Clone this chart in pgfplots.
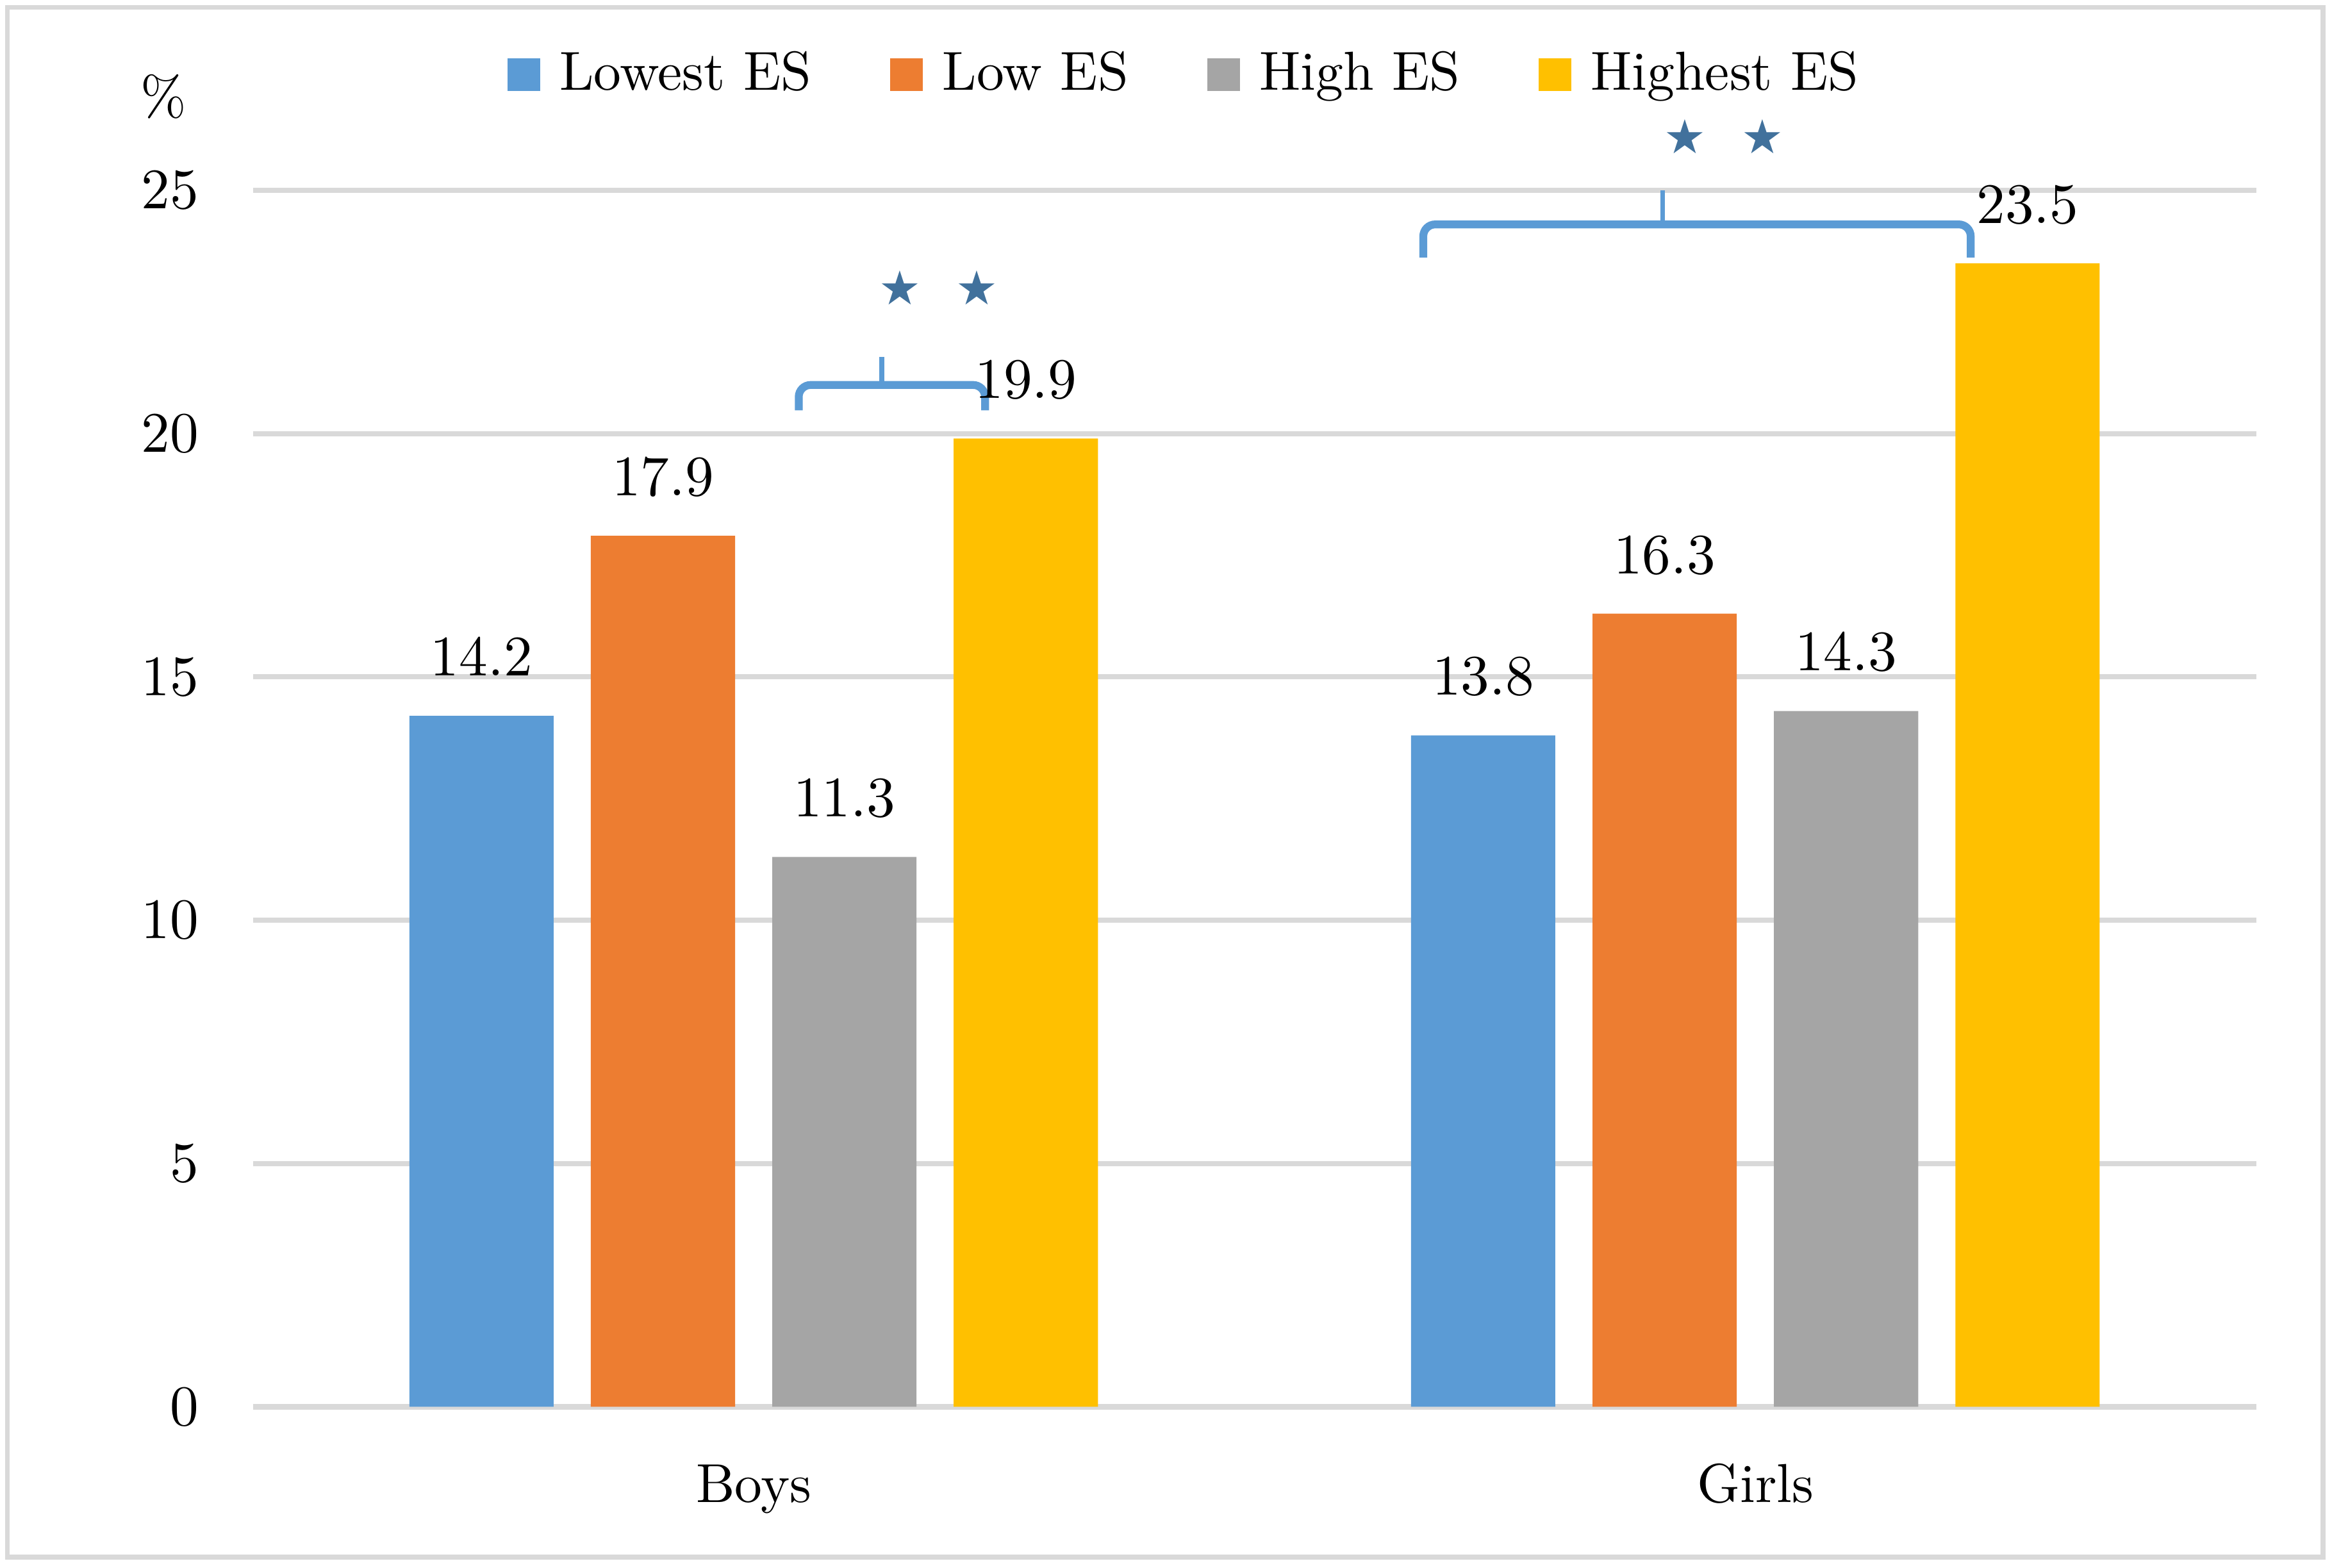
\documentclass[border=0pt]{standalone}
\usepackage{fontspec}
\usepackage{pgfplots}
\pgfplotsset{compat=1.18}
\usetikzlibrary{calc}
\newfontfamily\symfont{DejaVu Sans}

\definecolor{cblue}{HTML}{5B9BD5}
\definecolor{corange}{HTML}{ED7D31}
\definecolor{cgray}{HTML}{A5A5A5}
\definecolor{cyellow}{HTML}{FFC000}
\definecolor{cgrid}{HTML}{D9D9D9}
\definecolor{cstar}{HTML}{41719C}

\begin{document}
\begin{tikzpicture}[font=\fontsize{10.5}{12.6}\selectfont]
\begin{axis}[
    name=ax,
    scale only axis,
    width=134.7mm, height=81.8mm,
    xmin=-0.5, xmax=1.5,
    ymin=0, ymax=25,
    xtick={0,1}, xticklabels={Boys,Girls},
    ytick={0,5,...,25},
    ymajorgrids,
    grid style={cgrid, line width=1pt},
    axis line style={draw=none},
    tick style={draw=none},
    xticklabel style={anchor=base, yshift=-6.4mm},
    yticklabel style={anchor=east, xshift=-2.4mm},
    clip=false,
    bar width=9.7mm,
    nodes near coords,
    every node near coord/.append style={anchor=base, yshift=2.7mm, text=black},
    legend columns=4,
    legend style={at={(0.467,1.095)}, anchor=center, draw=none, fill=none,
        /tikz/every even column/.append style={column sep=4.6mm},
        /tikz/every odd column/.append style={column sep=0.6mm}},
    legend image code/.code={\fill[#1] (0mm,-1.1mm) rectangle (2.2mm,1.1mm);},
]
\addplot[ybar, bar shift=-18.3mm, fill=cblue, draw=none,
    every node near coord/.append style={xshift=-18.3mm}] coordinates {(0,14.2) (1,13.8)};
\addlegendentry{Lowest ES}
\addplot[ybar, bar shift=-6.1mm, fill=corange, draw=none,
    every node near coord/.append style={xshift=-6.1mm}] coordinates {(0,17.9) (1,16.3)};
\addlegendentry{Low ES}
\addplot[ybar, bar shift=6.1mm, fill=cgray, draw=none,
    every node near coord/.append style={xshift=6.1mm}] coordinates {(0,11.3) (1,14.3)};
\addlegendentry{High ES}
\addplot[ybar, bar shift=18.3mm, fill=cyellow, draw=none,
    every node near coord/.append style={xshift=18.3mm}] coordinates {(0,19.9) (1,23.5)};
\addlegendentry{Highest ES}

% braces
\draw[cblue, line width=1.5pt, rounded corners=0.8mm]
    (axis cs:0.045,20.48) -- (axis cs:0.045,21.0) -- (axis cs:0.231,21.0) -- (axis cs:0.231,20.48);
\draw[cblue, line width=0.9pt] (axis cs:0.128,21.0) -- (axis cs:0.128,21.58);
\draw[cblue, line width=1.5pt, rounded corners=0.8mm]
    (axis cs:0.6685,23.62) -- (axis cs:0.6685,24.3) -- (axis cs:1.215,24.3) -- (axis cs:1.215,23.62);
\draw[cblue, line width=0.9pt] (axis cs:0.9076,24.3) -- (axis cs:0.9076,25.0);

% stars
\node[text=cstar, font={\symfont\fontsize{9}{10}\selectfont}, inner sep=0pt] at (axis cs:0.146,23.0) {★};
\node[text=cstar, font={\symfont\fontsize{9}{10}\selectfont}, inner sep=0pt] at (axis cs:0.223,23.0) {★};
\node[text=cstar, font={\symfont\fontsize{9}{10}\selectfont}, inner sep=0pt] at (axis cs:0.93,26.1) {★};
\node[text=cstar, font={\symfont\fontsize{9}{10}\selectfont}, inner sep=0pt] at (axis cs:1.007,26.1) {★};

\node at ($(rel axis cs:0,1)+(-6mm,6.3mm)$) {\%};
\end{axis}
\draw[cgrid, line width=0.9pt] ($(ax.south west)+(-16.5mm,-10.1mm)$) rectangle ($(ax.north east)+(4.5mm,12.3mm)$);
\path ($(ax.south west)+(-17mm,-10.8mm)$) rectangle ($(ax.north east)+(5.1mm,12.8mm)$);
\end{tikzpicture}
\end{document}
